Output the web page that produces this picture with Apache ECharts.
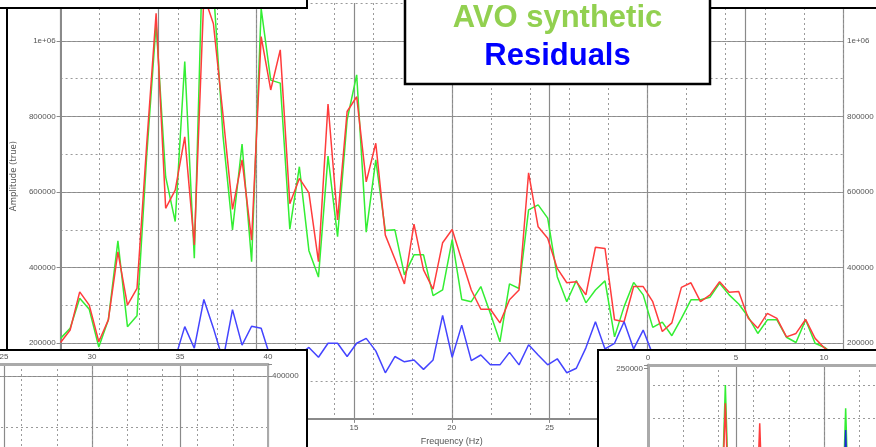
<!DOCTYPE html>
<html>
<head>
<meta charset="utf-8">
<script src="https://cdn.jsdelivr.net/npm/echarts@6/dist/echarts.min.js"></script>
<style>
  html, body { margin: 0; padding: 0; background: #ffffff; }
  #chart { width: 876px; height: 447px; }
</style>
</head>
<body>
<div id="chart"></div>
<script>
// Spectrum sampling step (Hz)
const df = 1000 / 2048;

// Amplitude spectra, one value per frequency sample
const observedRed = [
  202000, 235000, 336000, 301000, 204000, 262000, 442000, 301000, 345000, 720000,
  1073000, 557000, 605000, 746000, 460000, 1120000, 1045000, 805000, 554000, 685000,
  473000, 1011000, 870000, 976000, 569000, 636000, 598000, 416000, 833000, 526000,
  813000, 852000, 627000, 729000, 486000, 423000, 357000, 515000, 394000, 343000,
  466000, 501000, 420000, 341000, 290000, 290000, 254000, 315000, 341000, 651000,
  508000, 478000, 398000, 360000, 363000, 328000, 454000, 451000, 262000, 257000,
  350000, 350000, 310000, 231000, 254000, 348000, 360000, 310000, 328000, 363000,
  335000, 337000, 266000, 240000, 279000, 266000, 217000, 226000, 263000, 213000,
  187000, 172000, 160000
];
const avoSynthetic = [
  213000, 240000, 319000, 290000, 190000, 262000, 471000, 244000, 273000, 690000,
  1045000, 640000, 522000, 945000, 425000, 1350000, 1140000, 750000, 500000, 727000,
  416000, 1085000, 896000, 888000, 502000, 667000, 445000, 375000, 695000, 482000,
  791000, 910000, 494000, 685000, 498000, 500000, 381000, 434000, 434000, 326000,
  341000, 474000, 316000, 310000, 350000, 279000, 204000, 357000, 345000, 553000,
  566000, 531000, 376000, 310000, 366000, 307000, 341000, 365000, 217000, 297000,
  361000, 328000, 242000, 256000, 220000, 266000, 315000, 315000, 322000, 359000,
  328000, 304000, 270000, 226000, 262000, 262000, 216000, 202000, 262000, 200000,
  189000, 168000, 158000
];
const residuals = [
  120000, 100000, 140000, 110000, 95000, 130000, 150000, 105000, 125000, 150000,
  140000, 130000, 160000, 244000, 187000, 316000, 240000, 155000, 289000, 195000,
  245000, 240000, 160000, 140000, 150000, 170000, 189000, 163000, 200000, 200000,
  165000, 200000, 213000, 180000, 122000, 165000, 151000, 156000, 131000, 156000,
  274000, 163000, 248000, 154000, 169000, 143000, 143000, 176000, 143000, 196000,
  169000, 143000, 159000, 122000, 134000, 188000, 257000, 185000, 200000, 257000,
  185000, 235000, 170000, 140000, 130000, 150000, 120000, 135000, 125000, 140000,
  110000, 130000, 120000, 115000, 125000, 110000, 120000, 105000, 115000, 100000,
  110000, 95000, 100000
];

// Low-frequency panel (0-13 Hz)
const lowRed = [
  40000, 52000, 46000, 58000, 50000, 62000, 55000, 60000, 72000, 229000,
  66000, 58000, 70000, 217000, 64000, 52000, 45000, 50000, 44000, 55000,
  48000, 46000, 58000, 150000, 54000, 44000, 48000, 42000
];
const lowGreen = [
  30000, 45000, 38000, 52000, 41000, 60000, 48000, 55000, 70000, 240000,
  65000, 52000, 47000, 58000, 44000, 50000, 39000, 46000, 41000, 53000,
  48000, 44000, 60000, 226000, 55000, 42000, 47000, 40000
];
const lowBlue = [
  20000, 25000, 22000, 30000, 26000, 28000, 24000, 27000, 31000, 40000,
  29000, 26000, 30000, 35000, 28000, 25000, 23000, 27000, 24000, 29000,
  26000, 25000, 33000, 213000, 30000, 24000, 26000, 22000
];

const pairs = (vals) => vals.map((v, i) => [i * df, v]);

const FONT = 'Liberation Sans';
const LABEL = { fontFamily: FONT, fontSize: 8, color: '#555555' };
const SOLID = '#8a8a8a';
const DOT = '#9a9a9a';
const NONE = 'rgba(0,0,0,0)';

function ampLabel(v) {
  if (v === 1000000) return '1e+06';
  if (v % 100000 !== 0) return '';
  return String(v);
}

const chart = echarts.init(document.getElementById('chart'), null, { renderer: 'canvas' });

const gridBase = { containLabel: false, outerBoundsMode: 'none' };

const option = {
  animation: false,
  backgroundColor: '#ffffff',
  grid: [
    Object.assign({ left: 60.6, right: 33, top: 3, bottom: 28.1 }, gridBase),
    Object.assign({ left: -84, right: 608, top: 364, bottom: -31 }, gridBase),
    Object.assign({ left: 648, right: -0.8, top: 365, bottom: -4.7 }, gridBase)
  ],
  xAxis: [
    {
      gridIndex: 0, type: 'value', min: 0, max: 40, interval: 5, position: 'bottom',
      axisLine: { show: true, lineStyle: { color: SOLID, width: 2 } },
      axisTick: { show: true, length: 4, lineStyle: { color: SOLID } },
      axisLabel: Object.assign({ margin: 5 }, LABEL),
      splitLine: { show: true, lineStyle: { color: SOLID, width: 1.2 } },
      name: 'Frequency (Hz)', nameLocation: 'middle', nameGap: 18,
      nameTextStyle: { fontFamily: FONT, fontSize: 9, color: '#555555' }
    },
    {
      gridIndex: 0, type: 'value', min: 0, max: 40, interval: 2, position: 'top',
      axisLine: { show: false }, axisTick: { show: false }, axisLabel: { show: false },
      splitLine: { show: true, lineStyle: { color: DOT, width: 1, type: [2, 3] } }
    },
    {
      gridIndex: 1, type: 'value', min: 20, max: 40, interval: 5, position: 'top', z: 11,
      axisLine: { show: true, lineStyle: { color: '#aaaaaa', width: 3 } },
      axisTick: { show: false },
      axisLabel: Object.assign({ margin: 3 }, LABEL),
      splitLine: { show: true, lineStyle: { color: SOLID, width: 1.2 } }
    },
    {
      gridIndex: 1, type: 'value', min: 20, max: 40, interval: 2, position: 'bottom', z: 11,
      axisLine: { show: false }, axisTick: { show: false }, axisLabel: { show: false },
      splitLine: { show: true, lineStyle: { color: DOT, width: 1, type: [2, 3] } }
    },
    {
      gridIndex: 2, type: 'value', min: 0, max: 13, interval: 5, position: 'top', z: 11,
      axisLine: { show: true, lineStyle: { color: '#aaaaaa', width: 3 } },
      axisTick: { show: false },
      axisLabel: Object.assign({ margin: 3, formatter: (v) => (v % 5 === 0 ? String(v) : '') }, LABEL),
      splitLine: { show: true, lineStyle: { color: SOLID, width: 1.2 } }
    },
    {
      gridIndex: 2, type: 'value', min: 0, max: 13, interval: 2, position: 'bottom', z: 11,
      axisLine: { show: false }, axisTick: { show: false }, axisLabel: { show: false },
      splitLine: { show: true, lineStyle: { color: DOT, width: 1, type: [2, 3] } }
    }
  ],
  yAxis: [
    {
      gridIndex: 0, type: 'value', min: 0, max: 1100000, interval: 200000, position: 'left',
      axisLine: { show: true, lineStyle: { color: SOLID, width: 2 } },
      axisTick: { show: true, length: 4, lineStyle: { color: SOLID } },
      axisLabel: Object.assign({ margin: 5, formatter: ampLabel }, LABEL),
      splitLine: { show: true, lineStyle: { color: [SOLID, SOLID, SOLID, SOLID, SOLID, SOLID, NONE], width: 1.2 } }
    },
    {
      gridIndex: 0, type: 'value', min: 0, max: 1100000, interval: 200000, position: 'right',
      axisLine: { show: true, lineStyle: { color: SOLID, width: 2 } },
      axisTick: { show: true, length: 3, lineStyle: { color: SOLID } },
      axisLabel: Object.assign({ margin: 4, formatter: ampLabel }, LABEL),
      splitLine: { show: false }
    },
    {
      gridIndex: 0, type: 'value', min: 0, max: 1100000, interval: 100000, position: 'left',
      axisLine: { show: false }, axisTick: { show: false }, axisLabel: { show: false },
      splitLine: { show: true, lineStyle: { color: DOT, width: 1, type: [2, 3] } }
    },
    {
      gridIndex: 1, type: 'value', min: 200000, max: 423529, interval: 200000, position: 'right', z: 11,
      axisLine: { show: true, lineStyle: { color: '#aaaaaa', width: 2 } },
      axisTick: { show: true, length: 4, lineStyle: { color: SOLID } },
      axisLabel: Object.assign({ margin: 4, formatter: (v) => (v === 400000 ? '400000' : '') }, LABEL),
      splitLine: { show: true, lineStyle: { color: [SOLID, SOLID, NONE], width: 1.2 } }
    },
    {
      gridIndex: 1, type: 'value', min: 200000, max: 423529, interval: 100000, position: 'left', z: 11,
      axisLine: { show: false }, axisTick: { show: false }, axisLabel: { show: false },
      splitLine: { show: true, lineStyle: { color: [DOT, DOT, DOT, NONE], width: 1, type: [2, 3] } }
    },
    {
      gridIndex: 2, type: 'value', min: 200000, max: 252000, interval: 50000, position: 'left', z: 11,
      axisLine: { show: true, lineStyle: { color: '#aaaaaa', width: 3 } },
      axisTick: { show: true, length: 4, lineStyle: { color: SOLID } },
      axisLabel: Object.assign({ margin: 5, formatter: (v) => (v === 250000 ? '250000' : '') }, LABEL),
      splitLine: { show: false }
    },
    {
      gridIndex: 2, type: 'value', min: 200000, max: 252000, interval: 20000, position: 'right', z: 11,
      axisLine: { show: false }, axisTick: { show: false }, axisLabel: { show: false },
      splitLine: { show: true, lineStyle: { color: [DOT, DOT, DOT, NONE], width: 1, type: [2, 3] } }
    }
  ],
  series: [
    { name: 'AVO synthetic', type: 'line', xAxisIndex: 0, yAxisIndex: 0, data: pairs(avoSynthetic),
      showSymbol: false, clip: true, lineStyle: { color: '#33ee33', width: 1.5 }, z: 2 },
    { name: 'Observed', type: 'line', xAxisIndex: 0, yAxisIndex: 0, data: pairs(observedRed),
      showSymbol: false, clip: true, lineStyle: { color: '#ff3c3c', width: 1.5 }, z: 3 },
    { name: 'Residuals', type: 'line', xAxisIndex: 0, yAxisIndex: 0, data: pairs(residuals),
      showSymbol: false, clip: true, lineStyle: { color: '#4444ff', width: 1.5 }, z: 4 },

    { type: 'line', xAxisIndex: 4, yAxisIndex: 5, data: pairs(lowGreen),
      showSymbol: false, clip: true, lineStyle: { color: '#33ee33', width: 1.5 }, z: 12 },
    { type: 'line', xAxisIndex: 4, yAxisIndex: 5, data: pairs(lowRed),
      showSymbol: false, clip: true, lineStyle: { color: '#ff3c3c', width: 1.5 }, z: 13 },
    { type: 'line', xAxisIndex: 4, yAxisIndex: 5, data: pairs(lowBlue),
      showSymbol: false, clip: true, lineStyle: { color: '#2222dd', width: 1.5 }, z: 14 }
  ],
  graphic: {
    elements: [
      // left frame of the spectrum window
      { type: 'line', z: 10, shape: { x1: 7, y1: 8, x2: 7, y2: 350 },
        style: { stroke: '#000000', lineWidth: 2 } },
      // vertical axis title
      { type: 'text', z: 10, x: 14, y: 176, rotation: Math.PI / 2,
        style: { text: 'Amplitude (true)', font: '8.5px "DejaVu Sans"', fill: '#555555',
                 textAlign: 'center', textVerticalAlign: 'middle', align: 'center', verticalAlign: 'middle' } },
      // lower panels
      { type: 'rect', z: 10, shape: { x: -5, y: 350, width: 312, height: 110 },
        style: { fill: '#ffffff', stroke: '#000000', lineWidth: 2 } },
      { type: 'rect', z: 10, shape: { x: 598, y: 350, width: 290, height: 110 },
        style: { fill: '#ffffff', stroke: '#000000', lineWidth: 2 } },
      // upper panels
      { type: 'rect', z: 20, shape: { x: -5, y: -20, width: 312, height: 28 },
        style: { fill: '#ffffff', stroke: '#000000', lineWidth: 2 } },
      { type: 'rect', z: 20, shape: { x: 603, y: -20, width: 290, height: 28 },
        style: { fill: '#ffffff', stroke: '#000000', lineWidth: 2 } },
      // legend box
      { type: 'rect', z: 21, shape: { x: 405, y: -10, width: 305, height: 94 },
        style: { fill: '#ffffff', stroke: '#000000', lineWidth: 2.5 } },
      { type: 'text', z: 22, x: 557.5, y: 18,
        style: { text: 'AVO synthetic', font: 'bold 31px "Liberation Sans"', fill: '#92d050',
                 textAlign: 'center', textVerticalAlign: 'middle', align: 'center', verticalAlign: 'middle' } },
      { type: 'text', z: 22, x: 557.5, y: 56,
        style: { text: 'Residuals', font: 'bold 31px "Liberation Sans"', fill: '#0000ff',
                 textAlign: 'center', textVerticalAlign: 'middle', align: 'center', verticalAlign: 'middle' } }
    ]
  }
};

chart.setOption(option);
</script>
</body>
</html>
